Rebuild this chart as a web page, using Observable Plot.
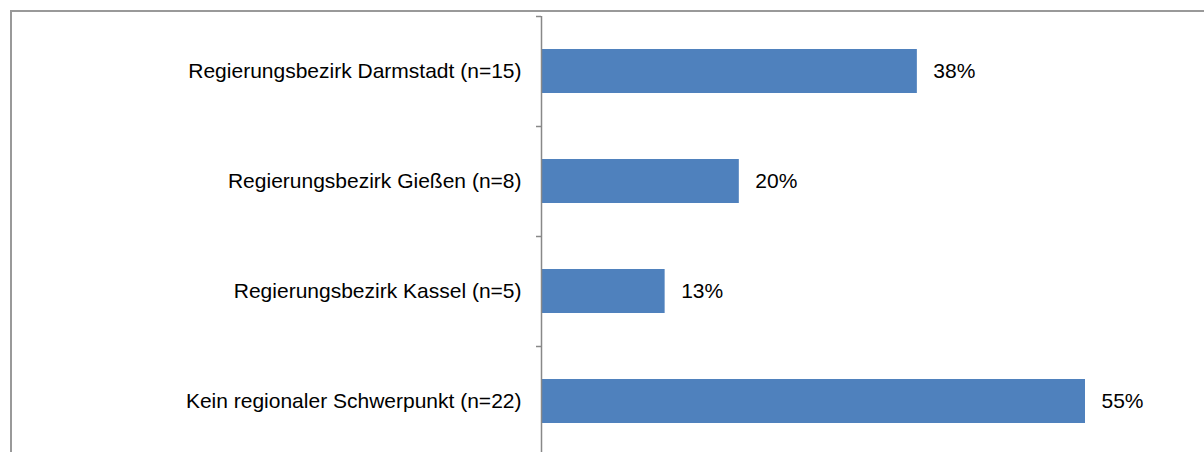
<!DOCTYPE html>
<html>
<head>
<meta charset="utf-8">
<script src="https://cdn.jsdelivr.net/npm/d3@7"></script>
<script src="https://cdn.jsdelivr.net/npm/@observablehq/plot@0.6"></script>
<style>
  html, body { margin: 0; padding: 0; background: #fff; overflow: hidden; }
  #wrap { position: relative; width: 1204px; height: 452px; overflow: hidden; }
  #border { position: absolute; left: 10px; top: 10px; width: 1400px; height: 700px;
            border: 2px solid #999; box-sizing: border-box; pointer-events: none; }
  #chart svg { display: block; }
</style>
</head>
<body>
<div id="wrap"><div id="chart"></div><div id="border"></div></div>
<script>
const categories = [
  "Regierungsbezirk Darmstadt (n=15)",
  "Regierungsbezirk Gießen (n=8)",
  "Regierungsbezirk Kassel (n=5)",
  "Kein regionaler Schwerpunkt (n=22)"
];
const values = [38, 20, 12.5, 55];
const valueLabels = ["38%", "20%", "13%", "55%"];

const data = categories.map((c, i) => ({cat: c, value: values[i], label: valueLabels[i]}));

const chart = Plot.plot({
  width: 1204,
  height: 452,
  marginLeft: 541,
  marginRight: 0,
  marginTop: 16,
  marginBottom: 0,
  style: {fontFamily: "'Liberation Sans', Arial, sans-serif", fontSize: "21px", color: "#000", background: "transparent"},
  x: {domain: [0, 55], range: [541, 1085], axis: null},
  y: {domain: categories, range: [16, 456], paddingInner: 0.6, paddingOuter: 0.3, align: 0.5, label: null},
  marks: [
    Plot.barX(data, {x: "value", y: "cat", fill: "#4F81BD"}),
    Plot.ruleX([0], {stroke: "#888", strokeWidth: 1.5}),
    Plot.ruleY(categories, {y: d => d, x1: 0, x2: 0, insetLeft: -5, dy: -55, stroke: "#888", strokeWidth: 1.5}),
    Plot.axisY({tickSize: 0, tickPadding: 20, fontSize: "21px", label: null}),
    Plot.text(data, {x: "value", y: "cat", text: "label", textAnchor: "start", dx: 16, fontSize: "21px", fill: "#000"})
  ]
});
document.getElementById("chart").appendChild(chart);
</script>
</body>
</html>
